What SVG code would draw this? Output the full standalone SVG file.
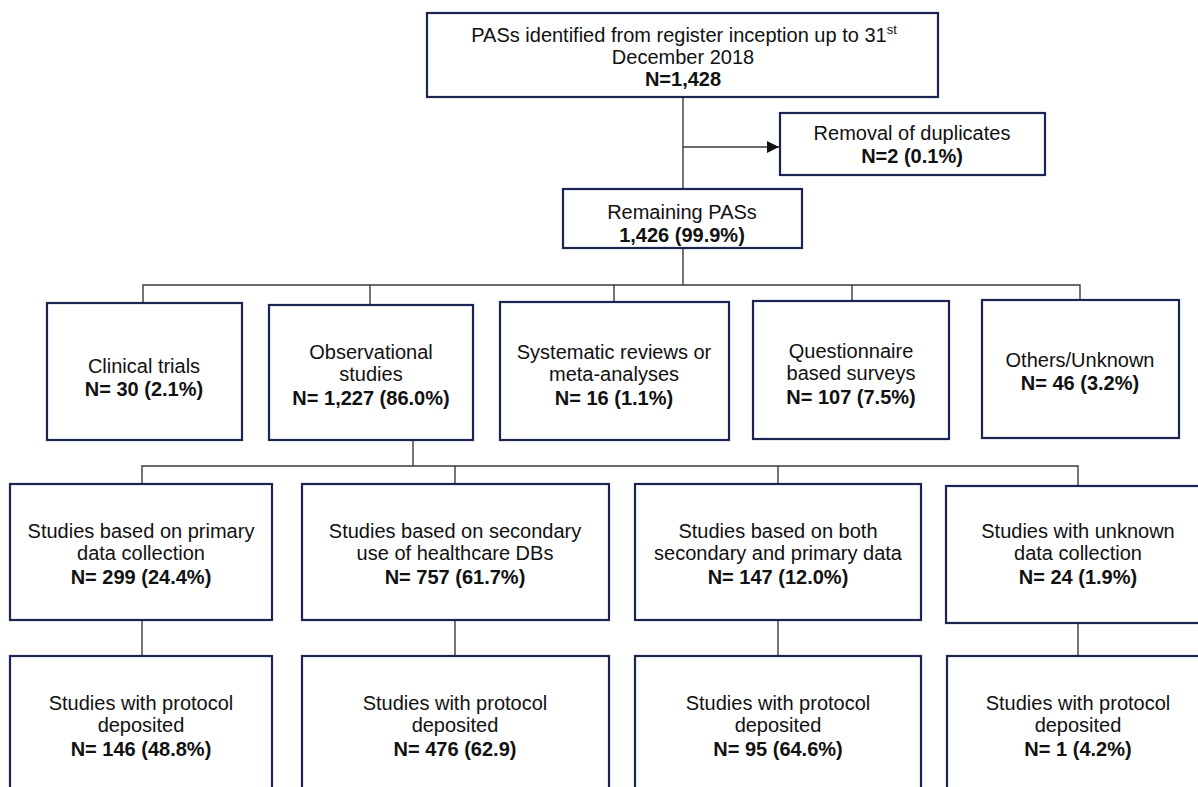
<svg xmlns="http://www.w3.org/2000/svg" width="1198" height="787" viewBox="0 0 1198 787">
<style>
.box{fill:#fff;stroke:#1c2452;stroke-width:2.2}
.ln{fill:none;stroke:#3a3a3a;stroke-width:1.4}
text{font-family:"Liberation Sans",Arial,sans-serif;font-size:20px;fill:#111;text-anchor:middle}
.b{font-weight:bold}
</style>
<defs>
<marker id="arr" viewBox="0 0 10 10" refX="10" refY="5" markerWidth="12" markerHeight="12" markerUnits="userSpaceOnUse" orient="auto">
<path d="M0,0 L10,5 L0,10 z" fill="#111"/>
</marker>
</defs>
<rect width="1198" height="787" fill="#fff"/>
<g id="connectors">
<path class="ln" d="M683,97 V189"/>
<path class="ln" d="M683,147 H779" marker-end="url(#arr)"/>
<path class="ln" d="M683,248 V285"/>
<path class="ln" d="M143,303 V285 H1080 V300"/>
<path class="ln" d="M370,285 V305"/>
<path class="ln" d="M614,285 V302"/>
<path class="ln" d="M852,285 V301"/>
<path class="ln" d="M413,440 V466"/>
<path class="ln" d="M142,484 V466 H1078 V486"/>
<path class="ln" d="M455,466 V484"/>
<path class="ln" d="M778,466 V484"/>
<path class="ln" d="M142,620 V656"/>
<path class="ln" d="M455,620 V656"/>
<path class="ln" d="M778,620 V656"/>
<path class="ln" d="M1078,623 V656"/>
</g>
<g id="n_top">
<rect class="box" x="427" y="13" width="511" height="84"/>
<text x="684" y="42">PASs identified from register inception up to 31<tspan font-size="13" dy="-8">st</tspan></text>
<text x="683" y="64">December 2018</text>
<text class="b" x="683" y="86">N=1,428</text>
</g>
<g id="n_dup">
<rect class="box" x="780" y="113" width="265" height="62"/>
<text x="912" y="140">Removal of duplicates</text>
<text class="b" x="912" y="163">N=2 (0.1%)</text>
</g>
<g id="n_rem">
<rect class="box" x="563" y="189" width="239" height="59"/>
<text x="682" y="219">Remaining PASs</text>
<text class="b" x="682" y="242">1,426 (99.9%)</text>
</g>
<g id="n_ct">
<rect class="box" x="47" y="303" width="195" height="137"/>
<text x="144" y="373">Clinical trials</text>
<text class="b" x="144" y="396">N= 30 (2.1%)</text>
</g>
<g id="n_obs">
<rect class="box" x="269" y="305" width="204" height="135"/>
<text x="371" y="359">Observational</text>
<text x="371" y="381">studies</text>
<text class="b" x="371" y="405">N= 1,227 (86.0%)</text>
</g>
<g id="n_sys">
<rect class="box" x="500" y="302" width="229" height="138"/>
<text x="614" y="359">Systematic reviews or</text>
<text x="614" y="381">meta-analyses</text>
<text class="b" x="614" y="405">N= 16 (1.1%)</text>
</g>
<g id="n_q">
<rect class="box" x="753" y="301" width="196" height="138"/>
<text x="851" y="358">Questionnaire</text>
<text x="851" y="380">based surveys</text>
<text class="b" x="851" y="404">N= 107 (7.5%)</text>
</g>
<g id="n_oth">
<rect class="box" x="982" y="300" width="197" height="138"/>
<text x="1080" y="367">Others/Unknown</text>
<text class="b" x="1080" y="390">N= 46 (3.2%)</text>
</g>
<g id="n_prim">
<rect class="box" x="10" y="484" width="262" height="136"/>
<text x="141" y="538">Studies based on primary</text>
<text x="141" y="560">data collection</text>
<text class="b" x="141" y="584">N= 299 (24.4%)</text>
</g>
<g id="n_sec">
<rect class="box" x="302" y="484" width="307" height="136"/>
<text x="455" y="538">Studies based on secondary</text>
<text x="455" y="560">use of healthcare DBs</text>
<text class="b" x="455" y="584">N= 757 (61.7%)</text>
</g>
<g id="n_both">
<rect class="box" x="635" y="484" width="286" height="136"/>
<text x="778" y="538">Studies based on both</text>
<text x="778" y="560">secondary and primary data</text>
<text class="b" x="778" y="584">N= 147 (12.0%)</text>
</g>
<g id="n_unk">
<rect class="box" x="946" y="486" width="264" height="137"/>
<text x="1078" y="538">Studies with unknown</text>
<text x="1078" y="560">data collection</text>
<text class="b" x="1078" y="584">N= 24 (1.9%)</text>
</g>
<g id="n_p1">
<rect class="box" x="10" y="656" width="262" height="150"/>
<text x="141" y="710">Studies with protocol</text>
<text x="141" y="732">deposited</text>
<text class="b" x="141" y="756">N= 146 (48.8%)</text>
</g>
<g id="n_p2">
<rect class="box" x="302" y="656" width="307" height="150"/>
<text x="455" y="710">Studies with protocol</text>
<text x="455" y="732">deposited</text>
<text class="b" x="455" y="756">N= 476 (62.9)</text>
</g>
<g id="n_p3">
<rect class="box" x="635" y="656" width="286" height="150"/>
<text x="778" y="710">Studies with protocol</text>
<text x="778" y="732">deposited</text>
<text class="b" x="778" y="756">N= 95 (64.6%)</text>
</g>
<g id="n_p4">
<rect class="box" x="947" y="656" width="263" height="150"/>
<text x="1078" y="710">Studies with protocol</text>
<text x="1078" y="732">deposited</text>
<text class="b" x="1078" y="756">N= 1 (4.2%)</text>
</g>
</svg>
